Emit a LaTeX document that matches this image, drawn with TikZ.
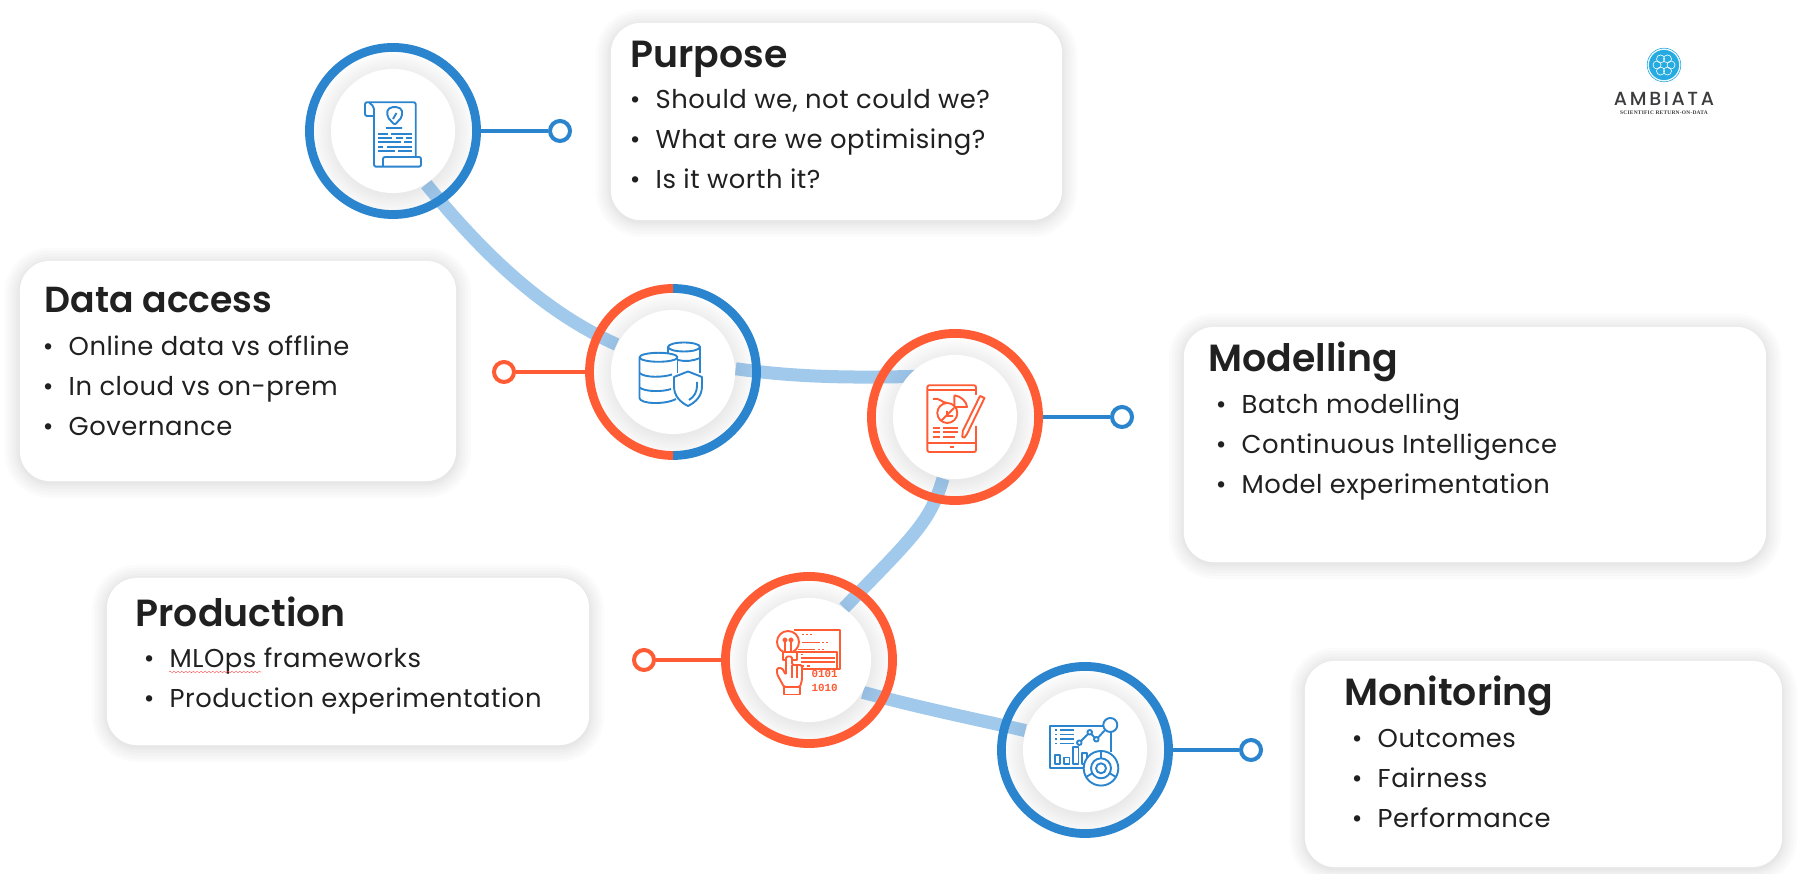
\documentclass[tikz,border=0pt]{standalone}
\usepackage{fontspec}
\usepackage{xcolor}
\setmainfont[LetterSpace=2]{Poppins}
\newfontfamily\headfont{Poppins SemiBold}
\newfontfamily\logofont[LetterSpace=14]{Poppins Medium}
\newfontfamily\logosub[LetterSpace=4]{Liberation Serif}
\newfontfamily\digitfont{Liberation Mono}
\usetikzlibrary{positioning, calc, decorations.pathmorphing}
\definecolor{hubblue}{RGB}{42,132,206}
\definecolor{huborange}{RGB}{255,92,53}
\definecolor{linkblue}{RGB}{38,130,210}
\definecolor{haloedge}{RGB}{234,234,234}
\definecolor{inktext}{RGB}{32,32,32}
\definecolor{logoblue}{RGB}{38,170,226}
\definecolor{logoink}{RGB}{60,60,62}
\pgfdeclareradialshading{halofade}{\pgfpoint{0bp}{-1.5bp}}{color(0bp)=(haloedge); color(18bp)=(haloedge); color(25bp)=(white); color(50bp)=(white)}
\pgfdeclarelayer{halos}
\pgfdeclarelayer{links}
\pgfsetlayers{halos,links,main}
\tikzset{
  cardglow/.style={preaction={draw=black, draw opacity=.014, line width=#1, transform canvas={yshift=-.5pt}}},
  card/.style={rectangle, fill=white, rounded corners=.3cm,
               cardglow=.30cm, cardglow=.24cm, cardglow=.18cm, cardglow=.12cm, cardglow=.07cm, cardglow=.03cm},
  cardhead/.style={anchor=base west, inner sep=0pt, text=inktext, font=\headfont\fontsize{10.75}{12}\selectfont},
  carditem/.style={anchor=base west, inner sep=0pt, text=inktext, font=\fontsize{7.35}{9}\selectfont,
                   execute at begin node={\llap{\textbullet\hspace{4.3pt}}}},
  halo/.style={circle, inner sep=0pt, minimum size=1.68cm, shading=halofade},
  hub/.style={circle, fill=white, inner sep=0pt, minimum size=1.24cm},
  ring/.style={circle, draw=#1, line width=.088cm, inner sep=0pt, minimum size=1.67cm},
  halfring/.style={draw=#1, line width=.088cm},
  stub/.style={draw=#1, line width=.04cm},
  dot/.style={circle, draw=#1, fill=white, line width=.04cm, inner sep=0pt, minimum size=.2cm},
  link/.style={draw=linkblue, draw opacity=.43, line width=.13cm},
  icon/.style={draw=#1, line width=.019cm, line join=round},
  squiggle/.style={draw=red!80, line width=.08pt, decorate, decoration={snake, amplitude=.25pt, segment length=1.1pt}},
}

\begin{document}
\begin{tikzpicture}[x=.01cm, y=-.01cm]
  \useasboundingbox (0,0) rectangle (1800,874);

  % cards
  \node[card, minimum width=4.51cm, minimum height=1.97cm] (purposecard) at (836.5,121.5) {};
  \node[card, minimum width=4.36cm, minimum height=2.20cm] (datacard) at (238,371) {};
  \node[card, minimum width=5.82cm, minimum height=2.35cm] (modellingcard) at (1475,444.5) {};
  \node[card, minimum width=4.82cm, minimum height=1.67cm] (productioncard) at (348,661.5) {};
  \node[card, minimum width=4.77cm, minimum height=2.06cm] (monitoringcard) at (1543.5,764) {};

  \node[cardhead] (purposehead) at (630,68) {Purpose};
  \node[carditem] (purposeone) at (655,109) {Should we, not could we?};
  \node[carditem] (purposetwo) at (655,149) {What are we optimising?};
  \node[carditem] (purposethree) at (655,189) {Is it worth it?};

  \node[cardhead, font=\headfont\fontsize{10.3}{12}\selectfont] (datahead) at (44,313) {Data access};
  \node[carditem] (dataone) at (68,356) {Online data vs offline};
  \node[carditem] (datatwo) at (68,396) {In cloud vs on-prem};
  \node[carditem] (datathree) at (68,436) {Governance};

  \node[cardhead] (modellinghead) at (1208,372) {Modelling};
  \node[carditem] (modellingone) at (1241,414) {Batch modelling};
  \node[carditem] (modellingtwo) at (1241,454) {Continuous Intelligence};
  \node[carditem] (modellingthree) at (1241,494) {Model experimentation};

  \node[cardhead] (productionhead) at (135,627) {Production};
  \node[carditem] (productionone) at (169,668) {MLOps frameworks};
  \node[carditem] (productiontwo) at (169,708) {Production experimentation};
  \draw[squiggle] ($(productionone.base west)+(0,4)$) -- +(93,0);

  \node[cardhead] (monitoringhead) at (1344,706) {Monitoring};
  \node[carditem] (monitoringone) at (1377,748) {Outcomes};
  \node[carditem] (monitoringtwo) at (1377,788) {Fairness};
  \node[carditem] (monitoringthree) at (1377,828) {Performance};

  % hubs
  \node[hub] (purpose) at (393,131) {};
  \node[hub] (dataaccess) at (673,372) {};
  \node[hub] (modelling) at (955,417) {};
  \node[hub] (production) at (809,660) {};
  \node[hub] (monitoring) at (1085,750) {};

  \begin{pgfonlayer}{halos}
    \node[halo] (purposehalo) at (purpose) {};
    \node[halo] (datahalo) at (dataaccess) {};
    \node[halo] (modellinghalo) at (modelling) {};
    \node[halo] (productionhalo) at (production) {};
    \node[halo] (monitoringhalo) at (monitoring) {};
  \end{pgfonlayer}

  \begin{pgfonlayer}{links}
    \draw[link] (purpose.-58) .. controls (480,250) and (540,310) .. (dataaccess.154);
    \draw[link] (dataaccess.3) .. controls (800,378) and (860,378) .. ($(modelling)+(-25,-41)$);
    \draw[link] (modelling.-101) .. controls (930,522) and (915,535) .. (production.56);
    \draw[link] (production.-31) .. controls (920,708) and (980,720) .. (monitoring.162);
  \end{pgfonlayer}

  \node[ring=hubblue] (purposering) at (purpose) {};
  \node[ring=huborange] (modellingring) at (modelling) {};
  \node[ring=huborange] (productionring) at (production) {};
  \node[ring=hubblue] (monitoringring) at (monitoring) {};
  \coordinate (dataring) at (dataaccess);
  \draw[halfring=hubblue] ($(dataring)+(0,-83.5)$) arc (-90:90:83.5);
  \draw[halfring=huborange] ($(dataring)+(0,-83.5)$) arc (-90:-270:83.5);

  % stubs and their end dots
  \node[dot=hubblue] (purposedot) at (560,131) {};
  \node[dot=huborange] (datadot) at (504,372) {};
  \node[dot=hubblue] (modellingdot) at (1122,417) {};
  \node[dot=huborange] (productiondot) at (644,660) {};
  \node[dot=hubblue] (monitoringdot) at (1251,750) {};
  \draw[stub=hubblue] (purposering) -- (purposedot);
  \draw[stub=huborange] (dataaccess.west) ++(-22,0) -- (datadot);
  \draw[stub=hubblue] (modellingring) -- (modellingdot);
  \draw[stub=huborange] (productionring) -- (productiondot);
  \draw[stub=hubblue] (monitoringring) -- (monitoringdot);

  % document icon
  \begin{scope}[shift={(purpose.center)}]
    \draw[icon=hubblue, rounded corners=.02cm] (-19,-15) -- (-28,-15) -- (-28,-28.7) -- (22.7,-28.7) -- (22.7,26);
    \draw[icon=hubblue, rounded corners=.02cm] (-24,-28.7) -- (-19,-24) -- (-19,35.7) -- (28,35.7) -- (28,26) -- (-10,26) -- (-10,35.7);
    \draw[icon=hubblue, rounded corners=.02cm] (1.7,-24.5) -- (9,-22) -- (9,-14) -- (1.7,-6) -- (-5.6,-14) -- (-5.6,-22) -- cycle;
    \draw[icon=hubblue] (3.5,-18) -- (0,-12) (-7,-3) -- (9,-3);
    \draw[icon=hubblue] (-15,2.7) -- (-5,2.7) (-2,2.7) -- (19,2.7)
      (-15,7) -- (-1,7) (3,7) -- (10,7) (13,7) -- (19,7)
      (-15,11.3) -- (8,11.3) (11,11.3) -- (19,11.3)
      (-15,15.7) -- (-10,15.7) (-6,15.7) -- (19,15.7)
      (-15,20) -- (2,20) (5,20) -- (19,20);
  \end{scope}

  % database icon
  \begin{scope}[shift={(dataaccess.center)}]
    \draw[icon=hubblue] (-14.5,-14.7) ellipse (19 and 4.5);
    \draw[icon=hubblue] (-33.5,-14.7) -- (-33.5,26) .. controls (-33.5,32) and (-8,33) .. (3,27);
    \draw[icon=hubblue] (-33.5,1) .. controls (-28,6) and (-10,5.5) .. (-1,2.5);
    \draw[icon=hubblue] (-33.5,15.5) .. controls (-28,20) and (-10,20) .. (-2,17);
    \draw[icon=hubblue] (4.5,-14.7) -- (4.5,1);
    \draw[icon=hubblue] (11,-25) ellipse (16 and 4.5);
    \draw[icon=hubblue] (-5,-25) -- (-5,-19) (27,-25) -- (27,1);
    \draw[icon=hubblue] (5,-12) .. controls (12,-10) and (20,-11) .. (27,-14);
    \draw[icon=hubblue] (15,-0.5) -- (29,5) -- (29,14) .. controls (29,24) and (23,30) .. (15,34) .. controls (7,30) and (1,24) .. (1,14) -- (1,5) -- cycle;
    \draw[icon=hubblue] (24,10) -- (24,14) .. controls (24,20) and (21,25) .. (16,28);
  \end{scope}

  % tablet icon
  \begin{scope}[shift={(modelling.center)}]
    \draw[icon=huborange, rounded corners=.02cm] (21,-22) -- (21,-31.7) -- (-27.7,-31.7) -- (-27.7,35) -- (21,35) -- (21,9);
    \draw[icon=huborange] (-27.7,-26.7) -- (21,-26.7) (-27.7,26) -- (21,26) (-5,30) -- (-1,30);
    \draw[icon=huborange] (9.5,20.5) -- (7.3,20) -- (7.8,14) -- (25,-21) -- (29.5,-19) -- (12,17) -- cycle;
    \draw[icon=huborange] (-0.7,-21.7) -- (-0.7,-10) -- (12,-10) .. controls (12,-15) and (6,-21) .. (-0.7,-21.7);
    \draw[icon=huborange] (-7.7,-4) circle (10);
    \draw[icon=huborange] (-22,-18) .. controls (-16,-20) and (-13,-14) .. (-7.7,-14);
    \draw[icon=huborange] (-14,4) -- (-1,-9) (-8,-1) -- (-8,-6) (-8,-1) -- (-2,-1);
    \draw[icon=huborange] (-22,10.7) -- (-15,10.7) (-12,10.7) -- (3.3,10.7)
      (-22,15) -- (-15,15) (-12,15) -- (3.3,15)
      (-22,20) -- (-15,20) (-12,20) -- (0,20);
  \end{scope}

  % touch icon
  \begin{scope}[shift={(production.center)}]
    \draw[icon=huborange] (-15,-30) -- (31,-30) -- (31,9) -- (-8,9);
    \draw[icon=huborange] (-12,-8) -- (28,-8) -- (28,9);
    \draw[icon=huborange] (-21,-18) circle (11);
    \draw[icon=huborange, fill=white] (-26,-8) rectangle (-12,0);
    \draw[icon=huborange] (-24,-18) -- (-24,-8) (-18,-18) -- (-18,-8) (-24,-20) circle (1.8) (-18,-20) circle (1.8);
    \draw[icon=huborange] (-7,-25.5) -- (-5.5,-25.5) (-3,-25.5) -- (-1.5,-25.5) (1,-25.5) -- (2.5,-25.5)
      (-7,-17.5) -- (11,-17.5) (13,-17.5) -- (15,-17.5) (17,-17.5) -- (19,-17.5)
      (-11,-10.5) -- (6,-10.5) (9,-10.5) -- (11,-10.5) (13,-10.5) -- (15,-10.5)
      (-8,-5.5) -- (-6,-5.5)
      (-8,-2.3) -- (26,-2.3)
      (-8,2.3) -- (26,2.3)
      (-8,6) -- (-5,6) (-2,6) -- (1,6);
    \draw[icon=huborange, fill=white, rounded corners=.015cm] (-25,27) -- (-32,14) -- (-32,8) -- (-27,8) -- (-23,15)
      -- (-23,-3.5) -- (-17,-3.5) -- (-17,5) -- (-7,5) -- (-7,20) -- (-9,27) -- cycle;
    \draw[icon=huborange] (-25,27) rectangle (-9,34.5);
    \draw[icon=huborange] (-17,5) -- (-17,18) (-12,5) -- (-12,18);
    \node[inner sep=0pt, align=center, text=huborange, font=\digitfont\fontsize{3.1}{3.9}\selectfont\bfseries] (binarydigits) at (15.7,20.7) {0101\\1010};
  \end{scope}

  % dashboard icon
  \begin{scope}[shift={(monitoring.center)}]
    \draw[icon=hubblue] (18,-24) -- (-34.7,-24) -- (-34.7,18) -- (0,18) (26,-18) -- (26,2);
    \draw[icon=hubblue] (25.3,-25) circle (7);
    \draw[icon=hubblue] (-5.7,-7.3) circle (2.3) (4.7,-17.7) circle (2.3) (11.3,-10.7) circle (2.3);
    \draw[icon=hubblue] (-4,-9) -- (3,-16) (6.3,-16) -- (9.7,-12.3) (13,-12.3) -- (20.5,-20.5);
    \draw[icon=hubblue] (-30,-20) -- (-28,-20) (-25,-20) -- (-11,-20)
      (-30,-15.5) -- (-28,-15.5) (-25,-15.5) -- (-11,-15.5)
      (-30,-11) -- (-28,-11) (-25,-11) -- (-11,-11)
      (-30,-6.5) -- (-28,-6.5) (-25,-6.5) -- (-11,-6.5);
    \draw[icon=hubblue] (-30,5) rectangle (-25,14) (-21,7.5) rectangle (-15.5,14)
      (-12,-2.7) rectangle (-6.5,14) (-3,2.7) rectangle (2,14);
    \draw[icon=hubblue, fill=white] (16,18.3) circle (17.3);
    \draw[icon=hubblue] (16,18.3) circle (10) (16,18.3) circle (5);
    \draw[icon=hubblue] (16,1) -- (16,8.3) (7.3,23.3) -- (1,27) (24.7,23.3) -- (31,27);
  \end{scope}

  % logo
  \node[circle, fill=logoblue, draw=white, line width=.006cm, inner sep=0pt, minimum size=.31cm] (logodisc) at (1664,65) {};
  \draw[draw=logoblue, line width=.006cm] (logodisc) circle (16.8);
  \begin{scope}[shift={(logodisc.center)}]
    \draw[draw=white, line width=.006cm] (0:7) circle (4) (60:7) circle (4) (120:7) circle (4)
      (180:7) circle (4) (240:7) circle (4) (300:7) circle (4);
  \end{scope}
  \node[inner sep=0pt, text=logoink, font=\logofont\fontsize{5.4}{6}\selectfont] (logomark) at (1664,99) {AMBIATA};
  \node[inner sep=0pt, text=logoink, font=\logosub\bfseries\fontsize{1.55}{2}\selectfont] (logotag) at (1664,113) {SCIENTIFIC RETURN-ON-DATA};
\end{tikzpicture}
\end{document}
